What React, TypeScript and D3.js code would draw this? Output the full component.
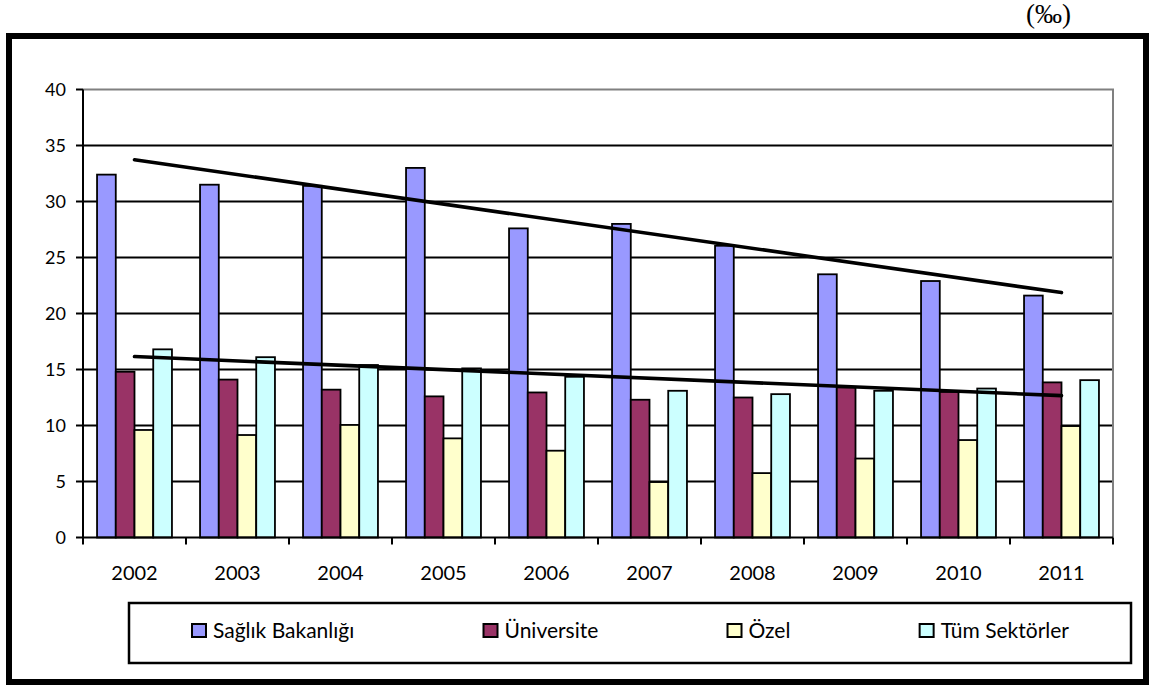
import React from 'react';
import * as d3 from 'd3';

const YEARS = ['2002', '2003', '2004', '2005', '2006', '2007', '2008', '2009', '2010', '2011'];
const SERIES = ['Sağlık Bakanlığı', 'Üniversite', 'Özel', 'Tüm Sektörler'];
const SAGLIK = [32.4, 31.5, 31.4, 33.0, 27.6, 28.0, 26.05, 23.5, 22.9, 21.6];
const UNIVERSITE = [14.8, 14.1, 13.2, 12.6, 12.95, 12.3, 12.5, 13.4, 13.0, 13.85];
const OZEL = [9.6, 9.15, 10.05, 8.85, 7.75, 4.95, 5.75, 7.05, 8.7, 9.95];
const TUM = [16.8, 16.1, 15.4, 15.1, 14.35, 13.1, 12.8, 13.1, 13.3, 14.05];
const Y_TICKS = [0, 5, 10, 15, 20, 25, 30, 35, 40];
const COLORS = ['#9999FF', '#993366', '#FFFFCC', '#CCFFFF'];
// series that get a linear trend line
const TREND_SERIES = [0, 3];

const VALUES = [SAGLIK, UNIVERSITE, OZEL, TUM];

const W = 1152;
const H = 686;
const plot = { left: 83, right: 1113, top: 89.5, bottom: 537.5 };
const FONT = 'Lato, "Liberation Sans", Arial, sans-serif';

function linearFit(ys: number[]) {
  const xs = ys.map((_, i) => i);
  const mx = d3.mean(xs) as number;
  const my = d3.mean(ys) as number;
  const sxy = d3.sum(xs, (x, i) => (x - mx) * (ys[i] - my));
  const sxx = d3.sum(xs, (x) => (x - mx) * (x - mx));
  const slope = sxy / sxx;
  return (x: number) => my + slope * (x - mx);
}

function measure(text: string, font: string) {
  const c = document.createElement('canvas').getContext('2d');
  if (!c) return text.length * 10;
  c.font = font;
  return c.measureText(text).width;
}

export default function App() {
  const x = d3.scaleBand<string>().domain(YEARS).range([plot.left, plot.right]).paddingInner(0).paddingOuter(0);
  const bw = x.bandwidth();
  // Excel-style gap width of 150% of a bar
  const barW = bw / (SERIES.length + 1.5);
  const gap = bw - barW * SERIES.length;
  const xs = d3
    .scaleBand<number>()
    .domain(d3.range(SERIES.length))
    .range([gap / 2, bw - gap / 2])
    .padding(0);
  const y = d3.scaleLinear().domain([0, 40]).range([plot.bottom, plot.top]);

  const center = (i: number) => (x(YEARS[i]) as number) + bw / 2;

  // legend layout
  const legend = { x: 129, y: 603, w: 1002, h: 60, pad: 62 };
  const legendFont = `21px ${FONT}`;
  const itemW = SERIES.map((s) => 22 + measure(s, legendFont));
  const legendGap = (legend.w - 2 * legend.pad - d3.sum(itemW)) / (SERIES.length - 1);
  const itemX: number[] = [];
  let cur = legend.x + legend.pad;
  itemW.forEach((w) => {
    itemX.push(cur);
    cur += w + legendGap;
  });

  const boundaries = d3.range(YEARS.length + 1).map((k) => plot.left + k * bw);

  return (
    <svg
      width={W}
      height={H}
      style={{ position: 'absolute', left: 0, top: 0, background: '#fff' }}
      fontFamily={FONT}
    >
      <rect x={0} y={0} width={W} height={H} fill="#fff" />
      <text
        x={1071}
        y={23}
        textAnchor="end"
        fontFamily='"Liberation Serif", "DejaVu Serif", serif'
        fontSize={27}
        fontWeight={400}
      >
        (‰)
      </text>
      <rect x={9} y={36} width={1137} height={646} fill="none" stroke="#000" strokeWidth={6} />

      {/* gridlines */}
      {Y_TICKS.filter((t) => t > 0 && t < 40).map((t) => (
        <line key={t} x1={plot.left} x2={plot.right} y1={y(t)} y2={y(t)} stroke="#000" strokeWidth={1.8} />
      ))}
      {/* plot area border */}
      <path
        d={`M${plot.left},${plot.top}H${plot.right}V${plot.bottom}`}
        fill="none"
        stroke="#808080"
        strokeWidth={2}
      />

      {/* bars */}
      {YEARS.map((yr, i) => (
        <g key={yr} transform={`translate(${x(yr)},0)`}>
          {VALUES.map((vals, s) => (
            <rect
              key={s}
              x={xs(s) as number}
              y={y(vals[i])}
              width={barW}
              height={y(0) - y(vals[i])}
              fill={COLORS[s]}
              stroke="#000"
              strokeWidth={1.8}
            />
          ))}
        </g>
      ))}

      {/* axes */}
      <line x1={plot.left} x2={plot.left} y1={plot.top} y2={plot.bottom} stroke="#000" strokeWidth={2} />
      <line x1={plot.left} x2={plot.right} y1={plot.bottom} y2={plot.bottom} stroke="#000" strokeWidth={2} />
      {Y_TICKS.map((t) => (
        <g key={t}>
          <line x1={plot.left - 7} x2={plot.left} y1={y(t)} y2={y(t)} stroke="#000" strokeWidth={2} />
          <text x={66} y={y(t)} dy="0.36em" textAnchor="end" fontSize={18} fill="#000">
            {t}
          </text>
        </g>
      ))}
      {boundaries.map((bx, k) => (
        <line key={k} x1={bx} x2={bx} y1={plot.bottom} y2={plot.bottom + 7} stroke="#000" strokeWidth={2} />
      ))}
      {YEARS.map((yr, i) => (
        <text key={yr} x={center(i)} y={580} textAnchor="middle" fontSize={20} fill="#000">
          {yr}
        </text>
      ))}

      {/* linear trend lines */}
      {TREND_SERIES.map((s) => {
        const fit = linearFit(VALUES[s]);
        const pts = [0, YEARS.length - 1];
        const d = d3
          .line<number>()
          .x((i) => center(i))
          .y((i) => y(fit(i)))(pts);
        return <path key={s} d={d || ''} fill="none" stroke="#000" strokeWidth={3.6} strokeLinecap="round" />;
      })}

      {/* legend */}
      <rect x={legend.x} y={legend.y} width={legend.w} height={legend.h} fill="#fff" stroke="#000" strokeWidth={2.5} />
      {SERIES.map((s, k) => (
        <g key={s}>
          <rect x={itemX[k] + 1} y={624} width={14} height={13} fill={COLORS[k]} stroke="#000" strokeWidth={2} />
          <text x={itemX[k] + 22} y={638} fontSize={21} fill="#000">
            {s}
          </text>
        </g>
      ))}
    </svg>
  );
}
